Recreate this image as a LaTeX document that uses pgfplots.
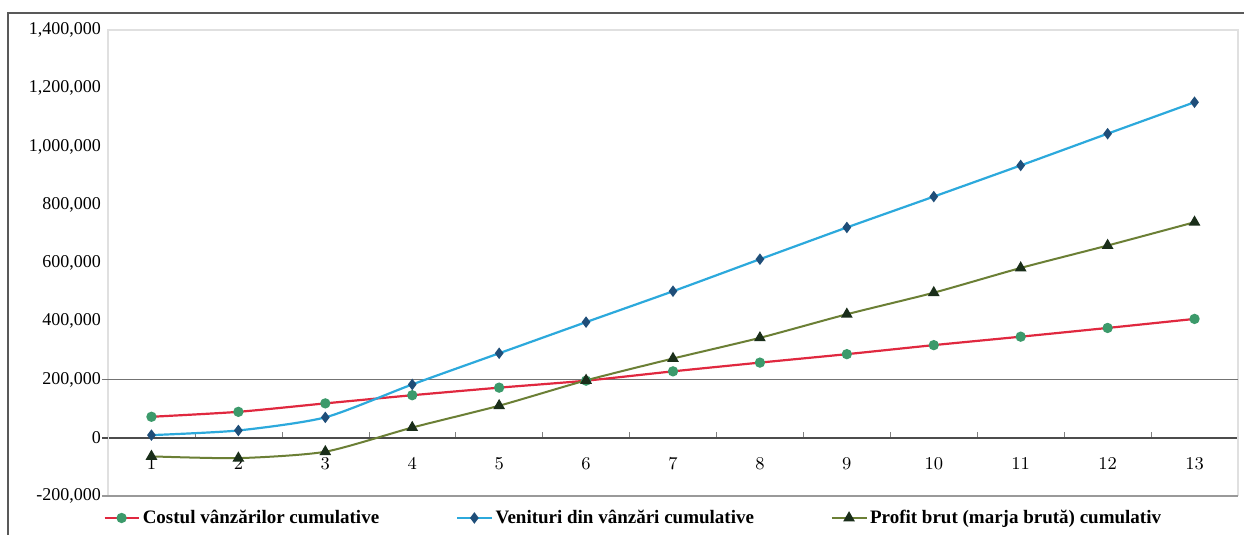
\documentclass[border=0pt]{standalone}
\usepackage{pgfplots}
\pgfplotsset{compat=1.18}
\usepackage{fontspec}
\setmainfont{Liberation Serif}
\definecolor{costred}{HTML}{E0283F}
\definecolor{costmark}{HTML}{3C9A6B}
\definecolor{revline}{HTML}{2CA9DC}
\definecolor{revmark}{HTML}{1F4E79}
\definecolor{profline}{HTML}{6B7F35}
\definecolor{profmark}{HTML}{1A2E1A}
\begin{document}
\begin{tikzpicture}
\path[use as bounding box] (-54pt,-19.5pt) rectangle (568pt,248pt);
\fill[white] (-54pt,-19.5pt) rectangle (568pt,248pt);
\draw[black!65, line width=1pt] (-50pt,-40pt) -- (-50pt,241.5pt) -- (600pt,241.5pt);
\begin{axis}[
  name=ax,
  at={(0,0)}, anchor=south west,
  scale only axis, width=565pt, height=233pt,
  xmin=0.5, xmax=13.5, ymin=-200000, ymax=1400000,
  axis x line*=middle, axis y line*=left,
  x axis line style={black!70, line width=0.8pt, -},
  y axis line style={draw=none},
  xtick={1,...,13},
  major x tick style={draw=none},
  minor xtick={1.5,2.5,...,12.5},
  minor tick length=3pt,
  minor x tick style={black!50},
  ytick={-200000,0,200000,400000,600000,800000,1000000,1200000,1400000},
  ytick style={draw=none},
  scaled y ticks=false,
  yticklabel style={/pgf/number format/.cd, fixed, 1000 sep={,}, assume math mode=true},
  ticklabel style={font=\fontsize{9}{10}\selectfont},
  xticklabel style={yshift=-6.5pt},
  legend columns=3,
  legend style={at={(-0.0044,-0.0472)}, anchor=west, draw=none, fill=none,
    inner sep=0pt, nodes={inner sep=1.5pt},
    font=\bfseries\fontsize{9.5}{11}\selectfont,
    /tikz/every even column/.append style={column sep=37pt}},
  clip=false,
]
\draw[black!12, line width=0.6pt] (axis cs:0.5,-200000) -- (axis cs:0.5,1400000) -- (axis cs:13.5,1400000) -- (axis cs:13.5,-200000);
\draw[black!55, line width=0.8pt] ([xshift=-3pt]axis cs:0.5,200000) -- (axis cs:13.5,200000);
\draw[black!40, line width=0.8pt] ([xshift=-3pt]axis cs:0.5,-200000) -- (axis cs:13.5,-200000);
\draw[black!70, line width=0.8pt] ([xshift=-3pt]axis cs:0.5,0) -- (axis cs:0.5,0);

\addplot[costred, line width=1.1pt, smooth, tension=0.4, mark=*, mark size=2pt,
  mark options={fill=costmark, draw=costmark}] coordinates {
  (1,72000) (2,89000) (3,118000) (4,146000) (5,172000) (6,196000) (7,228000)
  (8,258000) (9,287000) (10,318000) (11,347000) (12,377000) (13,408000)};
\addlegendentry{Costul vânzărilor cumulative}

\addplot[revline, line width=1.1pt, smooth, tension=0.4, mark=diamond*, mark size=2pt,
  mark options={fill=revmark, draw=revmark}] coordinates {
  (1,9000) (2,25000) (3,70000) (4,183000) (5,290000) (6,397000) (7,503000)
  (8,613000) (9,722000) (10,828000) (11,935000) (12,1044000) (13,1152000)};
\addlegendentry{Venituri din vânzări cumulative}

\addplot[profline, line width=1pt, smooth, tension=0.4, mark=triangle*, mark size=2.4pt,
  mark options={fill=profmark, draw=profmark}] coordinates {
  (1,-64000) (2,-70000) (3,-48000) (4,35000) (5,110000) (6,197000) (7,272000)
  (8,343000) (9,424000) (10,498000) (11,583000) (12,660000) (13,740000)};
\addlegendentry{Profit brut (marja brută) cumulativ}
\end{axis}
\end{tikzpicture}
\end{document}
